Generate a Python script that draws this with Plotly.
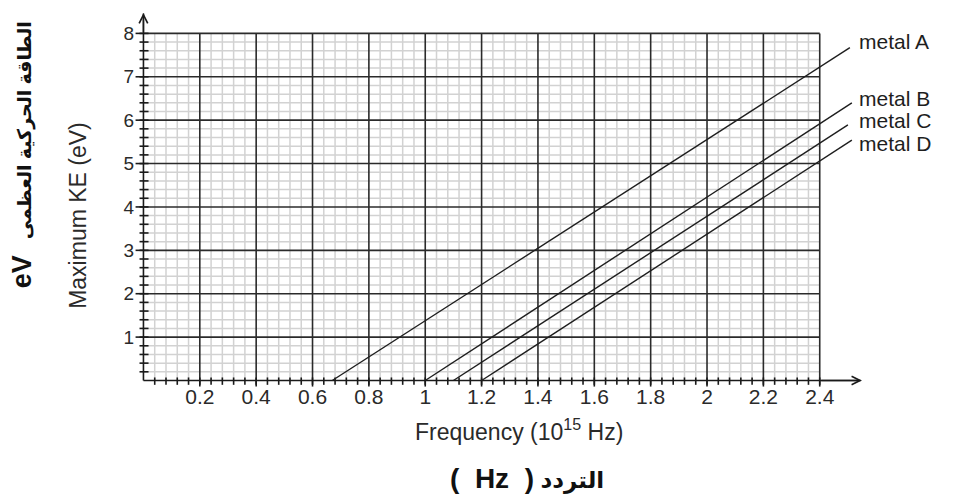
import numpy as np
import plotly.graph_objects as go

# ---- data ----
metals = ["metal A", "metal B", "metal C", "metal D"]
threshold_freq = [0.67, 1.0, 1.1, 1.2]      # 10^15 Hz, where KE = 0
end_freq = [2.507, 2.514, 2.50, 2.514]      # 10^15 Hz, where line stops
end_ke = [7.67, 6.40, 5.89, 5.54]           # eV at line end
label_y = [7.81, 6.51, 5.99, 5.47]          # label vertical positions (eV)

x_tick_vals = [0.2, 0.4, 0.6, 0.8, 1.0, 1.2, 1.4, 1.6, 1.8, 2.0, 2.2, 2.4]
x_tick_text = ["0.2", "0.4", "0.6", "0.8", "1", "1.2", "1.4", "1.6", "1.8", "2", "2.2", "2.4"]
y_tick_vals = [1, 2, 3, 4, 5, 6, 7, 8]
y_tick_text = ["1", "2", "3", "4", "5", "6", "7", "8"]

X_MAX, Y_MAX = 2.4, 8.0
X_MINOR, Y_MINOR = 0.04, 0.2
X_MAJOR, Y_MAJOR = 0.2, 1.0
X_RANGE = [-0.03, 2.55]
Y_RANGE = [-0.15, 8.47]

fig = go.Figure()


def segs(pairs):
    xs, ys = [], []
    for (x0, y0, x1, y1) in pairs:
        xs += [x0, x1, None]
        ys += [y0, y1, None]
    return xs, ys


def px(x):
    return (x - X_RANGE[0]) / (X_RANGE[1] - X_RANGE[0])


def py(y):
    return (y - Y_RANGE[0]) / (Y_RANGE[1] - Y_RANGE[0])


# minor grid
minor_x = [round(v, 4) for v in np.arange(X_MINOR, X_MAX + 1e-9, X_MINOR)
           if abs(v / X_MAJOR - round(v / X_MAJOR)) > 1e-6]
minor_y = [round(v, 4) for v in np.arange(Y_MINOR, Y_MAX + 1e-9, Y_MINOR)
           if abs(v / Y_MAJOR - round(v / Y_MAJOR)) > 1e-6]
pairs = [(v, 0, v, Y_MAX) for v in minor_x] + [(0, v, X_MAX, v) for v in minor_y]
xs, ys = segs(pairs)
fig.add_trace(go.Scatter(x=xs, y=ys, mode="lines", line=dict(color="#d2d2d2", width=1.5),
                         hoverinfo="skip", showlegend=False))

# major grid
major_x = [round(v, 4) for v in np.arange(X_MAJOR, X_MAX + 1e-9, X_MAJOR)]
major_y = [round(v, 4) for v in np.arange(Y_MAJOR, Y_MAX + 1e-9, Y_MAJOR)]
pairs = [(v, 0, v, Y_MAX) for v in major_x] + [(0, v, X_MAX, v) for v in major_y]
xs, ys = segs(pairs)
fig.add_trace(go.Scatter(x=xs, y=ys, mode="lines", line=dict(color="#2b2b2b", width=1.6),
                         hoverinfo="skip", showlegend=False))

# axis tick marks
tick_pairs = [(v, -0.1, v, 0.07) for v in np.arange(X_MINOR, X_MAX + 1e-9, X_MINOR)]
tick_pairs += [(v, -0.14, v, 0) for v in major_x]
tick_pairs += [(-0.014, v, 0.018, v) for v in np.arange(Y_MINOR, Y_MAX + 1e-9, Y_MINOR)]
tick_pairs += [(-0.028, v, 0, v) for v in major_y]
xs, ys = segs(tick_pairs)
fig.add_trace(go.Scatter(x=xs, y=ys, mode="lines", line=dict(color="#1a1a1a", width=1.6),
                         hoverinfo="skip", showlegend=False))

# axes lines
xs, ys = segs([(0, 0, 2.545, 0), (0, 0, 0, 8.46)])
fig.add_trace(go.Scatter(x=xs, y=ys, mode="lines", line=dict(color="#1a1a1a", width=1.6),
                         hoverinfo="skip", showlegend=False))
fig.add_annotation(x=2.55, y=0, ax=2.4, ay=0, xref="x", yref="y", axref="x", ayref="y",
                   text="", showarrow=True, arrowhead=5, arrowsize=1.2, arrowwidth=1.4,
                   arrowcolor="#1a1a1a")
fig.add_annotation(x=0, y=8.47, ax=0, ay=8.0, xref="x", yref="y", axref="x", ayref="y",
                   text="", showarrow=True, arrowhead=5, arrowsize=1.2, arrowwidth=1.4,
                   arrowcolor="#1a1a1a")

# metal lines + labels
for name, f0, f1, k1, ly in zip(metals, threshold_freq, end_freq, end_ke, label_y):
    fig.add_trace(go.Scatter(x=[f0, f1], y=[0, k1], mode="lines", name=name,
                             line=dict(color="#1e1e1e", width=1.4), showlegend=False))
    fig.add_annotation(x=2.532, y=ly, xref="x", yref="y", text=name, showarrow=False,
                       xanchor="left", yanchor="middle",
                       font=dict(family="Liberation Sans, Arial", size=21, color="#1e1e1e"))

# titles (paper coordinates)
fig.add_annotation(x=px(1.333), y=py(-1.15), xref="paper", yref="paper",
                   xanchor="center", yanchor="middle",
                   text="Frequency (10<sup>15</sup> Hz)", showarrow=False,
                   font=dict(family="Liberation Sans, Arial", size=23, color="#2a2a2a"))
NB = "\u00a0"
fig.add_annotation(x=px(1.36), y=py(-2.25), xref="paper", yref="paper",
                   xanchor="center", yanchor="middle",
                   text=f"<span style='font-size:28px'>({NB}{NB}Hz{NB}{NB})</span> التردد",
                   showarrow=False,
                   font=dict(family="Liberation Sans, DejaVu Sans", size=23, color="#111",
                             weight="bold"))
fig.add_annotation(x=px(-0.23), y=py(3.81), xref="paper", yref="paper",
                   xanchor="center", yanchor="middle",
                   text="Maximum KE (eV)", showarrow=False, textangle=-90,
                   font=dict(family="Liberation Sans, Arial", size=23, color="#2a2a2a"))
fig.add_annotation(x=px(-0.43), y=py(5.2), xref="paper", yref="paper",
                   xanchor="center", yanchor="middle",
                   text=f"<span style='font-size:27px'>eV</span>{NB}{NB} الطاقة الحركية العظمى",
                   showarrow=False, textangle=-90,
                   font=dict(family="Liberation Sans, DejaVu Sans", size=19, color="#111",
                             weight="bold"))

fig.update_layout(
    width=946, height=487,
    margin=dict(l=127, r=92, t=5, b=108),
    paper_bgcolor="white", plot_bgcolor="white",
    xaxis=dict(range=X_RANGE, showgrid=False, zeroline=False, showline=False,
               tickmode="array", tickvals=x_tick_vals, ticktext=x_tick_text, ticks="",
               automargin=False, ticklabelstandoff=-5,
               tickfont=dict(family="Liberation Sans, Arial", size=21, color="#2a2a2a")),
    yaxis=dict(range=Y_RANGE, showgrid=False, zeroline=False, showline=False,
               tickmode="array", tickvals=y_tick_vals, ticktext=y_tick_text, ticks="",
               automargin=False,
               tickfont=dict(family="Liberation Sans, Arial", size=19, color="#2a2a2a")),
    showlegend=False,
)

fig.write_html("out.html")
